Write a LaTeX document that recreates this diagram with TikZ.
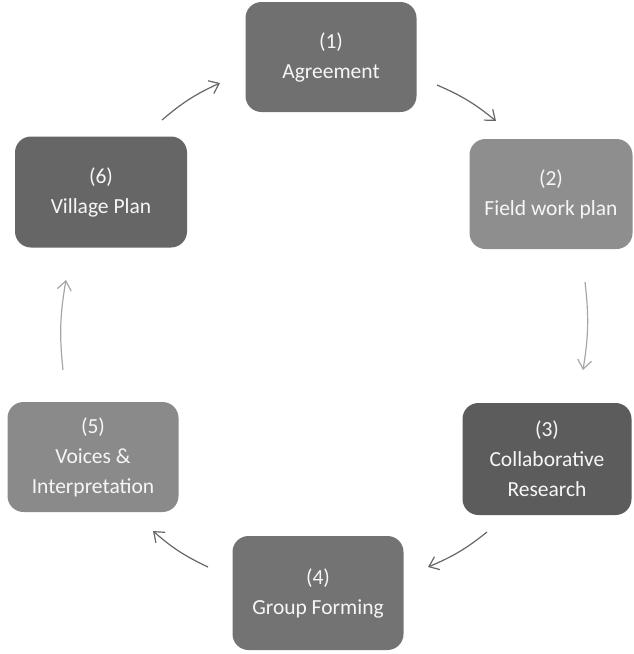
\documentclass[tikz,border=0pt]{standalone}
\usepackage{fontspec}
\setmainfont{Carlito}
\usetikzlibrary{arrows.meta}

\definecolor{agreefill}{HTML}{707070}
\definecolor{fieldfill}{HTML}{8E8E8E}
\definecolor{collabfill}{HTML}{5C5C5C}
\definecolor{groupfill}{HTML}{737373}
\definecolor{voicesfill}{HTML}{8A8A8A}
\definecolor{villagefill}{HTML}{666666}

\begin{document}
\begin{tikzpicture}[x=1pt,y=-1pt]
        \tikzstyle{every node}=[minimum width=171pt,minimum height=110pt,rounded corners=16pt,align=center,text=white!93!gray,font=\fontsize{21.5}{30}\selectfont]
        \tikzstyle{cycle}=[-{Straight Barb[length=9pt,width=14pt]},draw=gray!80!black,line width=1.2pt,bend left=8]
        \useasboundingbox (0,0) rectangle (634,654);

        % agreement
        \node[fill=agreefill] (agree) at (331,57) {(1)\\Agreement};
        % field work plan
        \node[fill=fieldfill,minimum width=163pt] (field) at (551,194) {(2)\\Field work plan};
        % collaborative research
        \node[fill=collabfill,minimum width=169pt,minimum height=112pt] (collab) at (547,459) {(3)\\Collaborative\\Research};
        % group forming
        \node[fill=groupfill,minimum height=114pt] (group) at (318,593) {(4)\\Group Forming};
        % voices
        \node[fill=voicesfill] (voices) at (93,457) {(5)\\Voices \&\\Interpretation};
        % village plan
        \node[fill=villagefill,minimum width=172pt,minimum height=111pt] (village) at (101,192) {(6)\\Village Plan};

        % cycle arrows
        \draw[cycle] ([shift={(106,28)}]agree.center) to ([shift={(-55,-73)}]field.center);
        \draw[cycle,draw=gray!70] ([shift={(34,88)}]field.center) to ([shift={(36,-89)}]collab.center);
        \draw[cycle] ([shift={(-60,73)}]collab.center) to ([shift={(110,-26)}]group.center);
        \draw[cycle] ([shift={(-110,-26)}]group.center) to ([shift={(60,74)}]voices.center);
        \draw[cycle,draw=gray!70] ([shift={(-30,-87)}]voices.center) to ([shift={(-35,88)}]village.center);
        \draw[cycle] ([shift={(61,-72)}]village.center) to ([shift={(-111,26)}]agree.center);
    \end{tikzpicture}
\end{document}
